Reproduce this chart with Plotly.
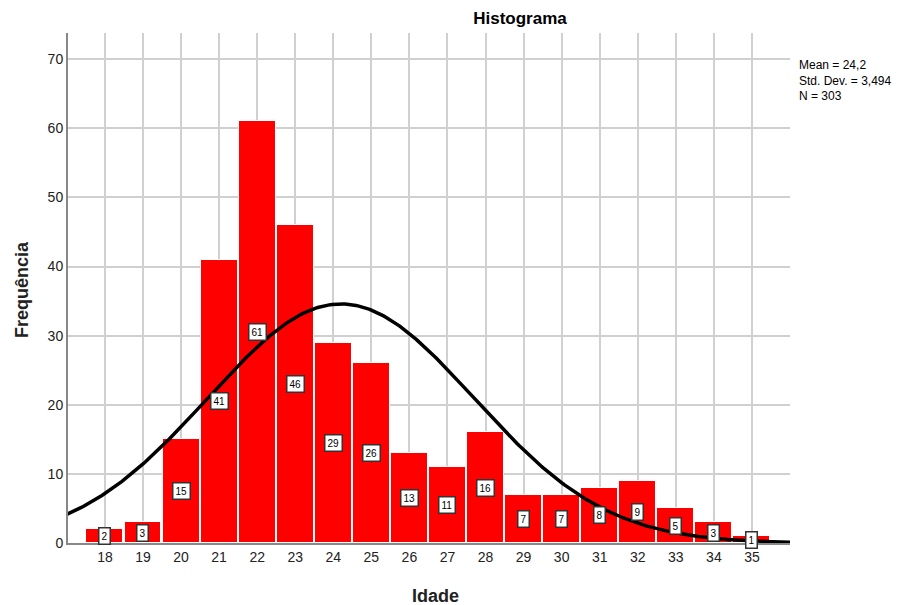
import numpy as np
import plotly.graph_objects as go

ages = list(range(18, 36))
counts = [2, 3, 15, 41, 61, 46, 29, 26, 13, 11, 16, 7, 7, 8, 9, 5, 3, 1]
mean_val = 24.2
sd_val = 3.494
n_val = 303
bin_width = 1
y_ticks = [0, 10, 20, 30, 40, 50, 60, 70]

xs = np.linspace(16.9, 36.1, 400)
ys = n_val * bin_width / (sd_val * np.sqrt(2 * np.pi)) * np.exp(-0.5 * ((xs - mean_val) / sd_val) ** 2)

FONT = "Liberation Sans, Arial"
OFF = 8  # page body margin
W, H = 905 - OFF, 605 - OFF
PL, PR, PT, PB = 68 - OFF, 790 - OFF, 33 - OFF, 543 - OFF

fig = go.Figure()
fig.add_trace(go.Bar(x=ages, y=counts, width=0.97,
                     marker=dict(color="#ff0000", line=dict(color="white", width=1)),
                     hoverinfo="x+y"))
fig.add_trace(go.Scatter(x=xs, y=ys, mode="lines", line=dict(color="black", width=3.5),
                         hoverinfo="skip"))

for a, c in zip(ages, counts):
    fig.add_annotation(x=a, y=c / 2, text=str(c), showarrow=False,
                       font=dict(family=FONT, size=10, color="black"),
                       bgcolor="white", bordercolor="#333333", borderwidth=1.5, borderpad=2)

fig.add_annotation(xref="paper", yref="paper", x=1.01, y=0.955, xanchor="left", yanchor="top",
                   align="left", showarrow=False,
                   text="Mean = 24,2<br>Std. Dev. = 3,494<br>N = 303",
                   font=dict(family=FONT, size=12, color="black"))

# axis titles
fig.add_annotation(xref="paper", yref="paper", x=(435 - 68) / (790 - 68), y=-(596 - 543) / (543 - 33),
                   text="<b>Idade</b>", showarrow=False, xanchor="center", yanchor="middle",
                   font=dict(family=FONT, size=18, color="#222222"))
fig.add_annotation(xref="paper", yref="paper", x=-(68 - 22) / (790 - 68), y=(543 - 290) / (543 - 33),
                   text="<b>Frequência</b>", showarrow=False, textangle=-90,
                   xanchor="center", yanchor="middle",
                   font=dict(family=FONT, size=18, color="#222222"))

fig.update_layout(
    width=W, height=H,
    margin=dict(l=PL, r=W - PR, t=PT, b=H - PB, autoexpand=False),
    plot_bgcolor="white", paper_bgcolor="white",
    showlegend=False, bargap=0,
    title=dict(text="<b>Histograma</b>", x=(520 - OFF) / W, xanchor="center",
               y=1 - (18 - OFF) / H, yanchor="middle",
               font=dict(family=FONT, size=17, color="black")),
    font=dict(family=FONT, color="#222222"),
)
fig.update_xaxes(range=[17.03, 36.0], tickmode="array", tickvals=ages, ticktext=[str(a) for a in ages],
                 showgrid=True, gridcolor="#d0d0d0", gridwidth=1.5, automargin=False,
                 showline=True, linecolor="#888888", linewidth=2, ticks="", zeroline=False,
                 tickfont=dict(size=14, color="#222222"))
fig.update_yaxes(range=[0, 73.8], tickmode="array", tickvals=y_ticks,
                 showgrid=True, gridcolor="#d0d0d0", gridwidth=1.5, automargin=False,
                 showline=True, linecolor="#888888", linewidth=2, ticks="", zeroline=False,
                 tickfont=dict(size=14, color="#222222"))

fig.write_html("out.html")
